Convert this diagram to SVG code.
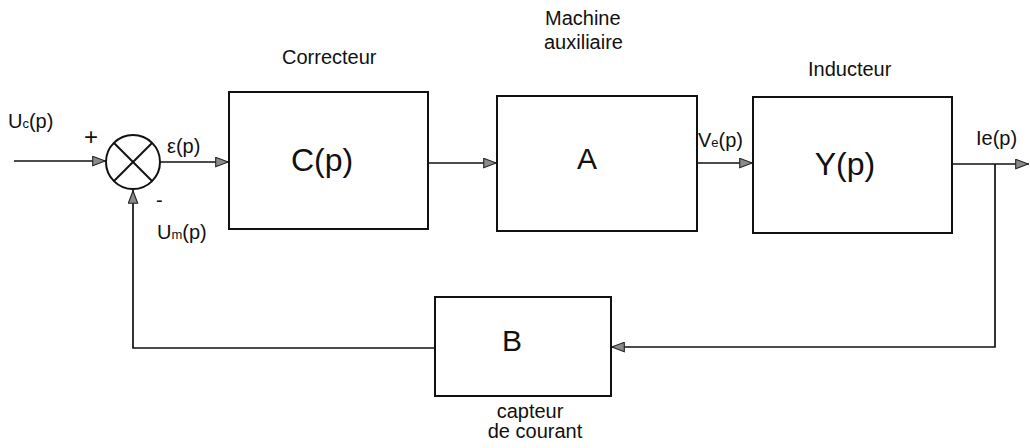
<svg xmlns="http://www.w3.org/2000/svg" width="1030" height="448" viewBox="0 0 1030 448">
<style>
.box{fill:#fff;stroke:#111;stroke-width:2}
.ln{fill:none;stroke:#111;stroke-width:1.7}
.t{font-family:"Liberation Sans",Arial,sans-serif;fill:#111}
.s{font-size:20px}
.sub{font-size:13px}
.b{font-size:32px}
</style>
<defs>
<marker id="ah" viewBox="0 0 14 11" refX="14" refY="5.5" markerWidth="14" markerHeight="11" markerUnits="userSpaceOnUse" orient="auto">
<path d="M0.7,0.8 L13.3,5.5 L0.7,10.2 Z" fill="#8a8a8a" stroke="#222" stroke-width="1.1"/>
</marker>
</defs>
<rect width="1030" height="448" fill="#fff"/>
<g id="connectors">
<line class="ln" x1="14" y1="161" x2="106" y2="161" marker-end="url(#ah)"/>
<line class="ln" x1="160" y1="162" x2="229" y2="162" marker-end="url(#ah)"/>
<line class="ln" x1="428" y1="163" x2="497" y2="163" marker-end="url(#ah)"/>
<line class="ln" x1="697" y1="163" x2="753" y2="163" marker-end="url(#ah)"/>
<line class="ln" x1="952" y1="164" x2="1029" y2="164" marker-end="url(#ah)"/>
<polyline class="ln" points="995,164 995,347 611,347" marker-end="url(#ah)"/>
<polyline class="ln" points="435,348 133,348 133,190" marker-end="url(#ah)"/>
</g>
<g id="sum">
<circle cx="133" cy="162" r="27" class="box"/>
<line class="ln" x1="114" y1="143" x2="152" y2="181" style="stroke-width:2"/>
<line class="ln" x1="152" y1="143" x2="114" y2="181" style="stroke-width:2"/>
</g>
<g id="C">
<rect class="box" x="229" y="92" width="199" height="137"/>
<text class="t b" x="322" y="171" text-anchor="middle">C(p)</text>
</g>
<g id="A">
<rect class="box" x="497" y="96" width="200" height="135"/>
<text class="t" style="font-size:30px" x="587" y="169" text-anchor="middle">A</text>
</g>
<g id="Y">
<rect class="box" x="753" y="97" width="199" height="136"/>
<text class="t b" x="845" y="175" text-anchor="middle">Y(p)</text>
</g>
<g id="B">
<rect class="box" x="435" y="297" width="176" height="99"/>
<text class="t" style="font-size:30px" x="512" y="351" text-anchor="middle">B</text>
</g>
<g id="labels">
<text class="t s" x="8" y="128">U<tspan class="sub">c</tspan>(p)</text>
<text class="t" style="font-size:24px" x="91" y="145" text-anchor="middle">+</text>
<text class="t s" x="167" y="153">ε(p)</text>
<text class="t s" x="156" y="207">-</text>
<text class="t s" x="157" y="239">U<tspan class="sub">m</tspan>(p)</text>
<text class="t s" x="282" y="64">Correcteur</text>
<text class="t s" x="545" y="25">Machine</text>
<text class="t s" x="544" y="49">auxiliaire</text>
<text class="t s" x="808" y="76">Inducteur</text>
<text class="t s" x="698" y="147">V<tspan class="sub">e</tspan>(p)</text>
<text class="t s" x="976" y="145">Ie(p)</text>
<text class="t s" x="530" y="418" text-anchor="middle">capteur</text>
<text class="t s" x="535" y="438" text-anchor="middle">de courant</text>
</g>
</svg>
